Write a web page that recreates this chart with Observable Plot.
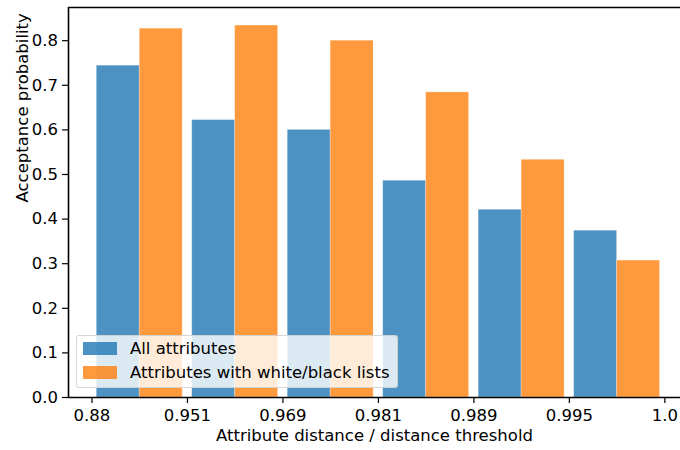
<!DOCTYPE html>
<html>
<head>
<meta charset="utf-8">
<script src="https://cdn.jsdelivr.net/npm/d3@7"></script>
<script src="https://cdn.jsdelivr.net/npm/@observablehq/plot@0.6"></script>
<style>
  html, body { margin: 0; padding: 0; background: #fff; }
  #wrap { position: relative; width: 680px; height: 450px; overflow: hidden; font-family: "DejaVu Sans", sans-serif; }
  #wrap svg text { font-size: 16.5px; font-family: "DejaVu Sans", sans-serif; }
  #legend {
    position: absolute; left: 76px; top: 335px; width: 320px; height: 51px;
    background: rgba(255,255,255,0.8); border: 1px solid rgba(204,204,204,0.8);
    border-radius: 3px; font-size: 16.5px; color: #000;
  }
  .item { position: absolute; left: 5.7px; height: 14px; display: flex; align-items: center; white-space: nowrap; }
  .sw { width: 34px; height: 12.5px; margin-right: 13.3px; }
</style>
</head>
<body>
<div id="wrap"></div>
<script>
// ---- data ----
const tickLabels = ["0.88", "0.951", "0.969", "0.981", "0.989", "0.995", "1.0"];
const seriesNames = ["All attributes", "Attributes with white/black lists"];
const allAttributes = [0.744, 0.622, 0.600, 0.486, 0.421, 0.374];
const withLists = [0.827, 0.834, 0.800, 0.684, 0.533, 0.307];
const colors = ["#1f77b4", "#ff7f0e"];
const yTicks = [0, 0.1, 0.2, 0.3, 0.4, 0.5, 0.6, 0.7, 0.8];

// ---- build table ----
const seriesValues = [allAttributes, withLists];
const rows = [];
seriesValues.forEach((vals, s) => {
  vals.forEach((v, i) => {
    rows.push({ group: i, series: seriesNames[s], s, value: v });
  });
});

const barW = 0.45, barStart = 0.05;
const xDomain = [-0.246, 6.164];
const yDomain = [0, 0.8744];

const chart = Plot.plot({
  width: 680,
  height: 450,
  marginLeft: 68,
  marginRight: 0,
  marginTop: 7,
  marginBottom: 53,
  style: { fontFamily: "DejaVu Sans, sans-serif", fontSize: "16.5px", color: "#000", background: "#fff" },
  x: { domain: xDomain, label: null },
  y: { domain: yDomain, label: null },
  color: { domain: seriesNames, range: colors },
  marks: [
    Plot.rectY(rows, {
      x1: d => d.group + barStart + d.s * barW,
      x2: d => d.group + barStart + (d.s + 1) * barW,
      y1: 0,
      y2: "value",
      fill: "series",
      fillOpacity: 0.8,
      stroke: "white",
      strokeOpacity: 0.35,
      strokeWidth: 0.8
    }),
    Plot.axisY({ ticks: yTicks, tickFormat: d3.format(".1f"), tickSize: 6, tickPadding: 4.5, strokeWidth: 1.2, label: null }),
    Plot.axisX({ ticks: d3.range(tickLabels.length), tickFormat: i => tickLabels[i], tickSize: 6, tickPadding: 6, strokeWidth: 1.2, label: null }),
    Plot.ruleY([yDomain[0]], { stroke: "black", strokeWidth: 1.6 }),
    Plot.ruleY([yDomain[1]], { stroke: "black", strokeWidth: 1.6 }),
    Plot.ruleX([xDomain[0]], { stroke: "black", strokeWidth: 1.6 }),
    Plot.text(["Attribute distance / distance threshold"], { frameAnchor: "bottom", dy: 43, fill: "black" }),
    Plot.text(["Acceptance probability"], { frameAnchor: "left", dx: -46, rotate: -90, fill: "black" })
  ]
});

const wrap = document.getElementById("wrap");
wrap.appendChild(chart);

// legend overlay
const legend = document.createElement("div");
legend.id = "legend";
seriesNames.forEach((name, s) => {
  const item = document.createElement("div");
  item.className = "item";
  item.style.top = (5.7 + s * 23.8) + "px";
  const sw = document.createElement("div");
  sw.className = "sw";
  sw.style.background = colors[s];
  sw.style.opacity = 0.8;
  const lab = document.createElement("span");
  lab.textContent = name;
  item.appendChild(sw);
  item.appendChild(lab);
  legend.appendChild(item);
});
wrap.appendChild(legend);
</script>
</body>
</html>
